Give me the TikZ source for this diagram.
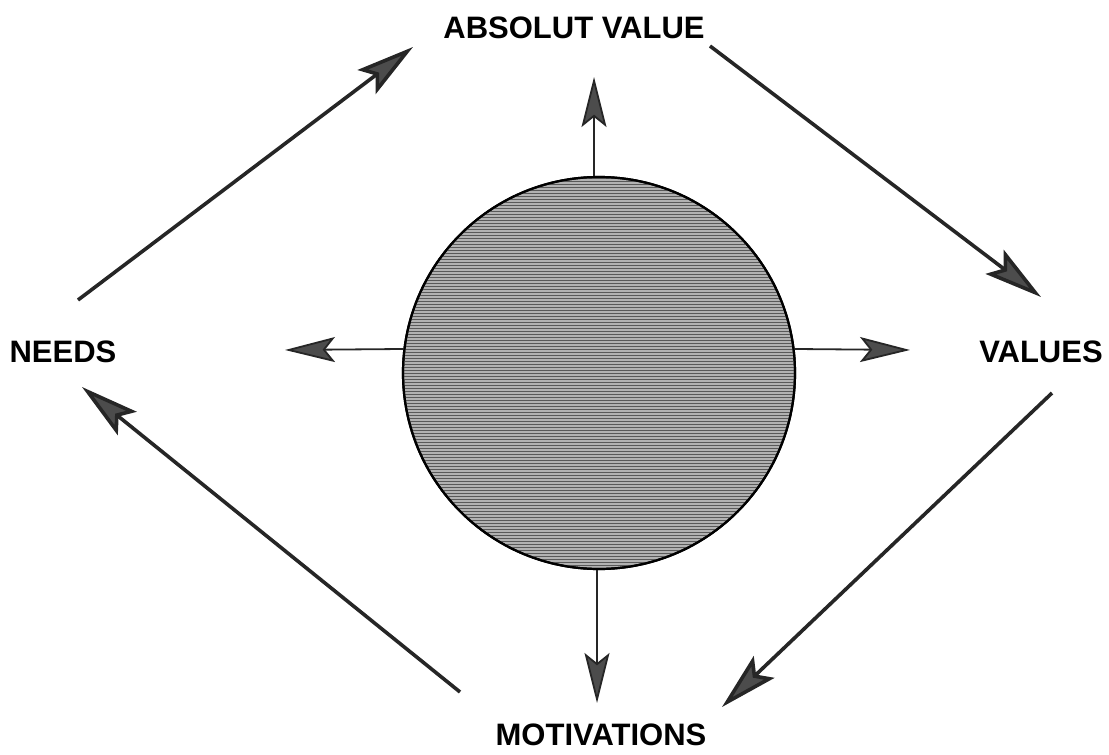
\documentclass[tikz,border=0pt]{standalone}
\usepackage{fontspec}
\setmainfont{Liberation Sans}
\usetikzlibrary{arrows.meta,patterns}
\tikzset{
  lbl/.style={font=\fontsize{31}{33}\selectfont\bfseries, inner sep=0pt, anchor=center},
  bigarrow/.style={line width=3.6pt, draw=black!85, -{Stealth[length=58pt,width=30pt,inset=11pt,fill=black!70]}},
  smallarrow/.style={line width=1.8pt, draw=black!85, -{Stealth[length=50pt,width=25pt,inset=10pt,fill=black!70]}},
  globe/.style={circle, minimum size=392pt, inner sep=0pt, draw=black, line width=2.2pt, fill=black!30}
}
\begin{document}
\begin{tikzpicture}[x=1pt,y=-1pt]
\useasboundingbox (0,0) rectangle (1109,755);
\node[lbl] (absval) at (574,28) {ABSOLUT VALUE};
\node[lbl] (needs) at (63,352) {NEEDS};
\node[lbl] (values) at (1041,352) {VALUES};
\node[lbl] (motiv) at (601,735) {MOTIVATIONS};
\node[globe] (c) at (599,373) {};
\fill[pattern=horizontal lines, pattern color=black!65] (c) circle[radius=195pt];
\draw[line width=2.2pt] (c) circle[radius=196pt];
% endpoints
\coordinate (n1) at (78,300);
\coordinate (a1) at (413,47);
\coordinate (a2) at (710,46);
\coordinate (v1) at (1041,297);
\coordinate (v2) at (1052,393);
\coordinate (m1) at (722,707);
\coordinate (m2) at (460,692);
\coordinate (n2) at (82,387);
\coordinate (up) at (594,77);
\coordinate (lt) at (285,350);
\coordinate (rt) at (910,350);
\coordinate (dn) at (597,703);
\draw[bigarrow] (n1) -- (a1);
\draw[bigarrow] (a2) -- (v1);
\draw[bigarrow] (v2) -- (m1);
\draw[bigarrow] (m2) -- (n2);
\draw[smallarrow] (c.north) ++(-5,0) -- (up);
\draw[smallarrow] (c.173) -- (lt);
\draw[smallarrow] (c.7) -- (rt);
\draw[smallarrow] (c.south) ++(-2,0) -- (dn);
\end{tikzpicture}
\end{document}
